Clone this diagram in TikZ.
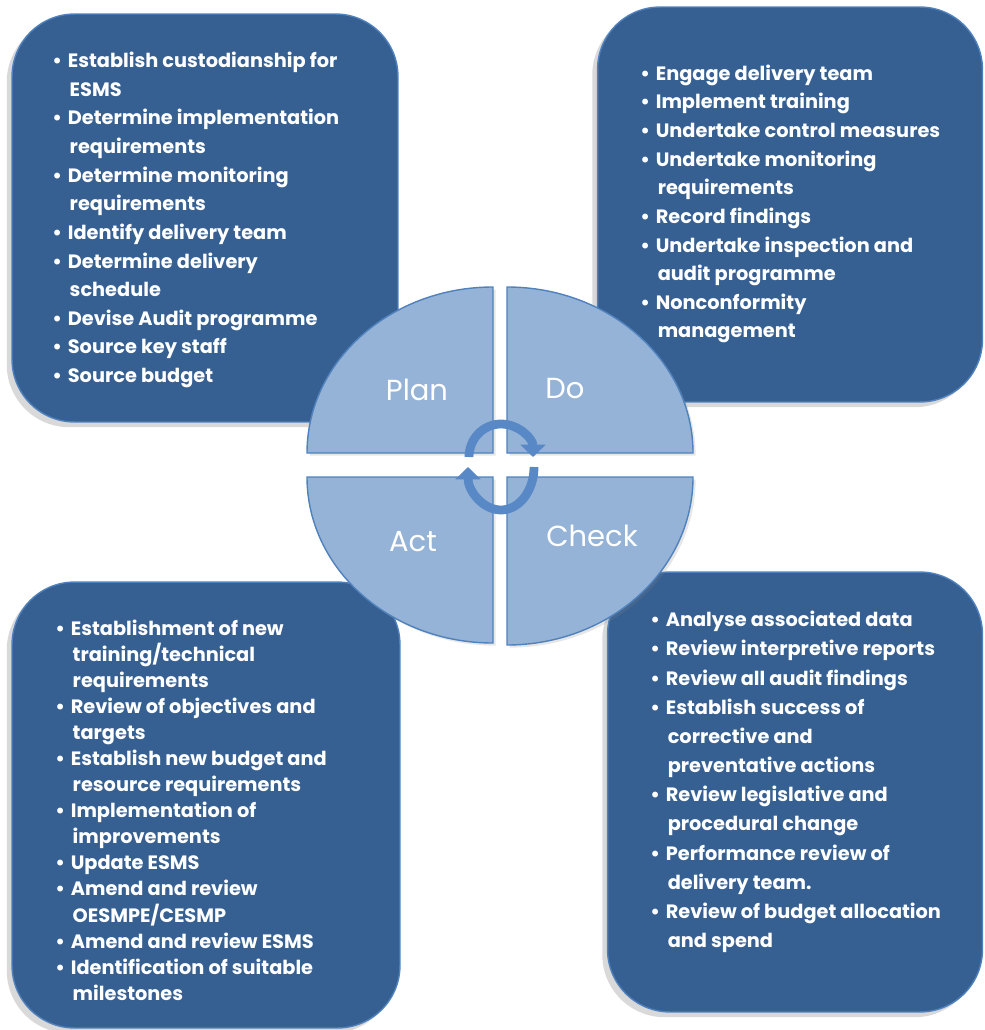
\documentclass[tikz,border=0pt]{standalone}
\usepackage{fontspec}
\setmainfont{Poppins}
\usepackage{tikz}
\usetikzlibrary{arrows.meta,shadows}
\definecolor{boxblue}{RGB}{55,96,146}
\definecolor{edgeblue}{RGB}{79,129,189}
\definecolor{quadblue}{RGB}{149,179,215}
\definecolor{arrowblue}{RGB}{88,136,198}
\tikzset{
	stagebox/.style = {rectangle, rounded corners=1.25cm, fill=boxblue, draw=edgeblue,
		thick, drop shadow={shadow xshift=-3pt, shadow yshift=-3pt, opacity=0.3}},
	itemtext/.style = {anchor=west, align=left, inner sep=0pt, text=white,
		font=\bfseries\fontsize{11}{16.3}\selectfont},
	quad/.style = {fill=quadblue, draw=edgeblue, thick,
		drop shadow={shadow xshift=1.5pt, shadow yshift=-1.5pt, opacity=0.2}},
	quadlabel/.style = {text=white, font=\fontsize{16.5}{19}\selectfont},
	cyclearrow/.style = {draw=arrowblue, line width=5pt,
		-{Triangle[width=14pt,length=7pt]}}
}
\newcommand{\bl}{\makebox[0.8em][l]{\textbullet}}
\newcommand{\cn}{\hspace*{0.9em}}
\begin{document}
\begin{tikzpicture}[x=0.02cm,y=-0.02cm]
\useasboundingbox (0,0) rectangle (984,1030);
% four stage boxes
\node[stagebox, minimum width=7.72cm, minimum height=8.16cm] (planbox) at (205,218) {};
\node[stagebox, minimum width=7.7cm, minimum height=7.9cm] (dobox) at (790,204.5) {};
\node[stagebox, minimum width=7.76cm, minimum height=8.92cm] (actbox) at (206,805) {};
\node[stagebox, minimum width=7.5cm, minimum height=8.8cm] (checkbox) at (795,792) {};
\node[itemtext] (plantext) at (52,220) {\bl Establish custodianship for\\
	\cn ESMS\\
	\bl Determine implementation\\
	\cn requirements\\
	\bl Determine monitoring\\
	\cn requirements\\
	\bl Identify delivery team\\
	\bl Determine delivery\\
	\cn schedule\\
	\bl Devise Audit programme\\
	\bl Source key staff\\
	\bl Source budget};
\node[itemtext] (dotext) at (640,204) {\bl Engage delivery team\\
	\bl Implement training\\
	\bl Undertake control measures\\
	\bl Undertake monitoring\\
	\cn requirements\\
	\bl Record findings\\
	\bl Undertake inspection and\\
	\cn audit programme\\
	\bl Nonconformity\\
	\cn management};
\node[itemtext, font=\bfseries\fontsize{11}{14.85}\selectfont] (acttext) at (55,810) {\bl Establishment of new\\
	\cn training/technical\\
	\cn requirements\\
	\bl Review of objectives and\\
	\cn targets\\
	\bl Establish new budget and\\
	\cn resource requirements\\
	\bl Implementation of\\
	\cn improvements\\
	\bl Update ESMS\\
	\bl Amend and review\\
	\cn OESMPE/CESMP\\
	\bl Amend and review ESMS\\
	\bl Identification of suitable\\
	\cn milestones};
\node[itemtext, font=\bfseries\fontsize{11}{16.6}\selectfont] (checktext) at (650,782) {\bl Analyse associated data\\
	\bl Review interpretive reports\\
	\bl Review all audit findings\\
	\bl Establish success of\\
	\cn corrective and\\
	\cn preventative actions\\
	\bl Review legislative and\\
	\cn procedural change\\
	\bl Performance review of\\
	\cn delivery team.\\
	\bl Review of budget allocation\\
	\cn and spend};
% the cycle
\filldraw[quad] (493,453) -- (307,453) arc[start angle=180, end angle=270, x radius=186, y radius=166] -- cycle;
\filldraw[quad] (507,453) -- (507,287) arc[start angle=270, end angle=360, x radius=186, y radius=166] -- cycle;
\filldraw[quad] (493,477) -- (307,477) arc[start angle=180, end angle=90, x radius=186, y radius=166] -- cycle;
\filldraw[quad] (507,477) -- (693,477) arc[start angle=0, end angle=90, x radius=186, y radius=168] -- cycle;
\node[quadlabel] (plan) at (417,390) {Plan};
\node[quadlabel] (do) at (565,389) {Do};
\node[quadlabel] (act) at (413,542) {Act};
\node[quadlabel] (check) at (592,536) {Check};
\draw[cyclearrow] (469,457) arc[start angle=180, end angle=360, x radius=32, y radius=33];
\draw[cyclearrow] (534,467) arc[start angle=0, end angle=180, x radius=33, y radius=43];
\end{tikzpicture}
\end{document}
